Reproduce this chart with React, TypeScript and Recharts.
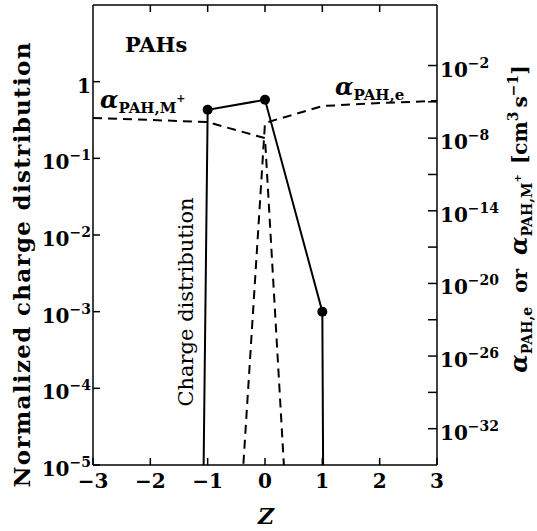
import React from "react";
import { LineChart, Line, XAxis, YAxis } from "recharts";

// charge states and per-state values
const zValues = [-3, -2, -1, 0, 1, 2, 3];
const chargeDistribution = [1e-120, 1e-66, 0.43, 0.58, 1e-3, 1e-150, 1e-200];
const alphaCation = [4.6e-7, 3.2e-7, 2.1e-7, 1e-8, 1e-90, 1e-95, 1e-100];
const alphaElectron = [1e-95, 1e-88, 3e-82, 1.8e-7, 4.5e-6, 7.9e-6, 1.2e-5];

const zTicks = [-3, -2, -1, 0, 1, 2, 3];
const distTicks = [1e-5, 1e-4, 1e-3, 1e-2, 1e-1, 1];
const alphaTicks = [1e-32, 1e-29, 1e-26, 1e-23, 1e-20, 1e-17, 1e-14, 1e-11, 1e-8, 1e-5, 1e-2];
const alphaLabelled = [-32, -26, -20, -14, -8, -2];

const rows = zValues.map((z, i) => ({
  z,
  dist: chargeDistribution[i],
  am: alphaCation[i],
  ae: alphaElectron[i],
}));

const W = 537;
const H = 531;
const LEFT = 93;
const RIGHT = 437;
const TOP = 5;
const BOTTOM = 465;

const font = "'DejaVu Serif', serif";
const txt = { fontFamily: font, fontWeight: 700, fill: "#000" } as const;

const expOf = (v: number) => Math.round(Math.log10(v));

const DistTick = (props: any) => {
  const { y, payload } = props;
  const e = expOf(payload.value);
  return (
    <g>
      <line x1={LEFT} x2={LEFT + 7} y1={y} y2={y} stroke="#000" strokeWidth={1.5} />
      <text x={91} y={y + 11} textAnchor="end" fontSize={20} {...txt}>
        {e === 0 ? (
          "1"
        ) : (
          <>
            <tspan>10</tspan>
            <tspan fontSize={14} dy={-9}>{"\u2212" + -e}</tspan>
          </>
        )}
      </text>
    </g>
  );
};

const AlphaTick = (props: any) => {
  const { y, payload } = props;
  const e = expOf(payload.value);
  const show = alphaLabelled.includes(e);
  return (
    <g>
      <line x1={RIGHT - 9} x2={RIGHT} y1={y} y2={y} stroke="#000" strokeWidth={1.5} />
      {show && (
        <text x={440} y={y + 11} textAnchor="start" fontSize={20} {...txt}>
          <tspan>10</tspan>
          <tspan fontSize={14} dy={-9}>{"\u2212" + -e}</tspan>
        </text>
      )}
    </g>
  );
};

const BottomTick = (props: any) => {
  const { x, payload } = props;
  const v = payload.value;
  return (
    <g>
      <line x1={x} x2={x} y1={BOTTOM} y2={BOTTOM - 7} stroke="#000" strokeWidth={1.5} />
      <text x={x} y={488} textAnchor="middle" fontSize={20} {...txt}>
        {v < 0 ? "\u2212" + -v : String(v)}
      </text>
    </g>
  );
};

const TopTick = (props: any) => {
  const { x } = props;
  return <line x1={x} x2={x} y1={TOP} y2={TOP + 7} stroke="#000" strokeWidth={1.5} />;
};

const DistDot = (props: any) => {
  const { cx, cy, payload, index } = props;
  if (payload.dist < 1e-5) return <g key={index} />;
  return <circle key={index} cx={cx} cy={cy} r={5} fill="#000" />;
};

export default function App() {
  return (
    <div style={{ position: "absolute", left: 0, top: 0, background: "#fff" }}>
      <LineChart width={W} height={H} data={rows} margin={{ top: 0, right: 0, bottom: 0, left: 0 }}>
        <XAxis
          xAxisId="bottom"
          dataKey="z"
          type="number"
          domain={[-3, 3]}
          ticks={zTicks}
          interval={0}
          height={H - BOTTOM}
          axisLine={{ stroke: "#000", strokeWidth: 1.5 }}
          tickLine={false}
          tick={BottomTick}
        />
        <XAxis
          xAxisId="top"
          orientation="top"
          dataKey="z"
          type="number"
          domain={[-3, 3]}
          ticks={zTicks.slice(1, -1)}
          interval={0}
          height={TOP}
          axisLine={{ stroke: "#000", strokeWidth: 1.5 }}
          tickLine={false}
          tick={TopTick}
        />
        <YAxis
          yAxisId="dist"
          scale="log"
          type="number"
          domain={[1e-5, 10]}
          allowDataOverflow
          ticks={distTicks}
          interval={0}
          width={LEFT}
          axisLine={{ stroke: "#000", strokeWidth: 1.5 }}
          tickLine={false}
          tick={DistTick}
        />
        <YAxis
          yAxisId="alpha"
          orientation="right"
          scale="log"
          type="number"
          domain={[1e-35, 1e3]}
          allowDataOverflow
          ticks={alphaTicks}
          interval={0}
          width={W - RIGHT}
          axisLine={{ stroke: "#000", strokeWidth: 1.5 }}
          tickLine={false}
          tick={AlphaTick}
        />
        <Line
          xAxisId="bottom"
          yAxisId="alpha"
          dataKey="am"
          type="linear"
          stroke="#000"
          strokeWidth={2}
          strokeDasharray="9 6"
          dot={false}
          isAnimationActive={false}
        />
        <Line
          xAxisId="bottom"
          yAxisId="alpha"
          dataKey="ae"
          type="linear"
          stroke="#000"
          strokeWidth={2}
          strokeDasharray="9 6"
          dot={false}
          isAnimationActive={false}
        />
        <Line
          xAxisId="bottom"
          yAxisId="dist"
          dataKey="dist"
          type="linear"
          stroke="#000"
          strokeWidth={2}
          dot={DistDot}
          isAnimationActive={false}
        />

        <text x={125} y={52} fontSize={21} {...txt}>PAHs</text>

        <text x={100} y={108} {...txt}>
          <tspan fontSize={24} fontStyle="italic">α</tspan>
          <tspan fontSize={15} dy={5}>PAH,M</tspan>
          <tspan fontSize={11} dy={-11}>+</tspan>
        </text>

        <text x={335} y={95} {...txt}>
          <tspan fontSize={24} fontStyle="italic">α</tspan>
          <tspan fontSize={15} dy={5}>PAH,e</tspan>
        </text>

        <text
          transform="translate(193,302) rotate(-90)"
          textAnchor="middle"
          fontSize={21}
          fontFamily={font}
          fill="#000"
        >
          Charge distribution
        </text>

        <text
          transform="translate(30,265) rotate(-90)"
          textAnchor="middle"
          fontSize={23}
          textLength={445}
          lengthAdjust="spacing"
          {...txt}
        >
          Normalized charge distribution
        </text>

        <text transform="translate(527,219) rotate(-90)" textAnchor="middle" {...txt}>
          <tspan fontSize={24} fontStyle="italic">α</tspan>
          <tspan fontSize={14} dy={5}>PAH,e</tspan>
          <tspan fontSize={20} dy={-5} dx={14}>or</tspan>
          <tspan fontSize={24} fontStyle="italic" dx={14}>α</tspan>
          <tspan fontSize={14} dy={5}>PAH,M</tspan>
          <tspan fontSize={10} dy={-11}>+</tspan>
          <tspan fontSize={20} dy={6} dx={10}>[cm</tspan>
          <tspan fontSize={14} dy={-9}>3</tspan>
          <tspan fontSize={20} dy={9} dx={4}>s</tspan>
          <tspan fontSize={14} dy={-9}>{"\u22121"}</tspan>
          <tspan fontSize={20} dy={9}>]</tspan>
        </text>

        <text x={266} y={524} textAnchor="middle" fontSize={22} fontStyle="italic" {...txt}>
          Z
        </text>
      </LineChart>
    </div>
  );
}
